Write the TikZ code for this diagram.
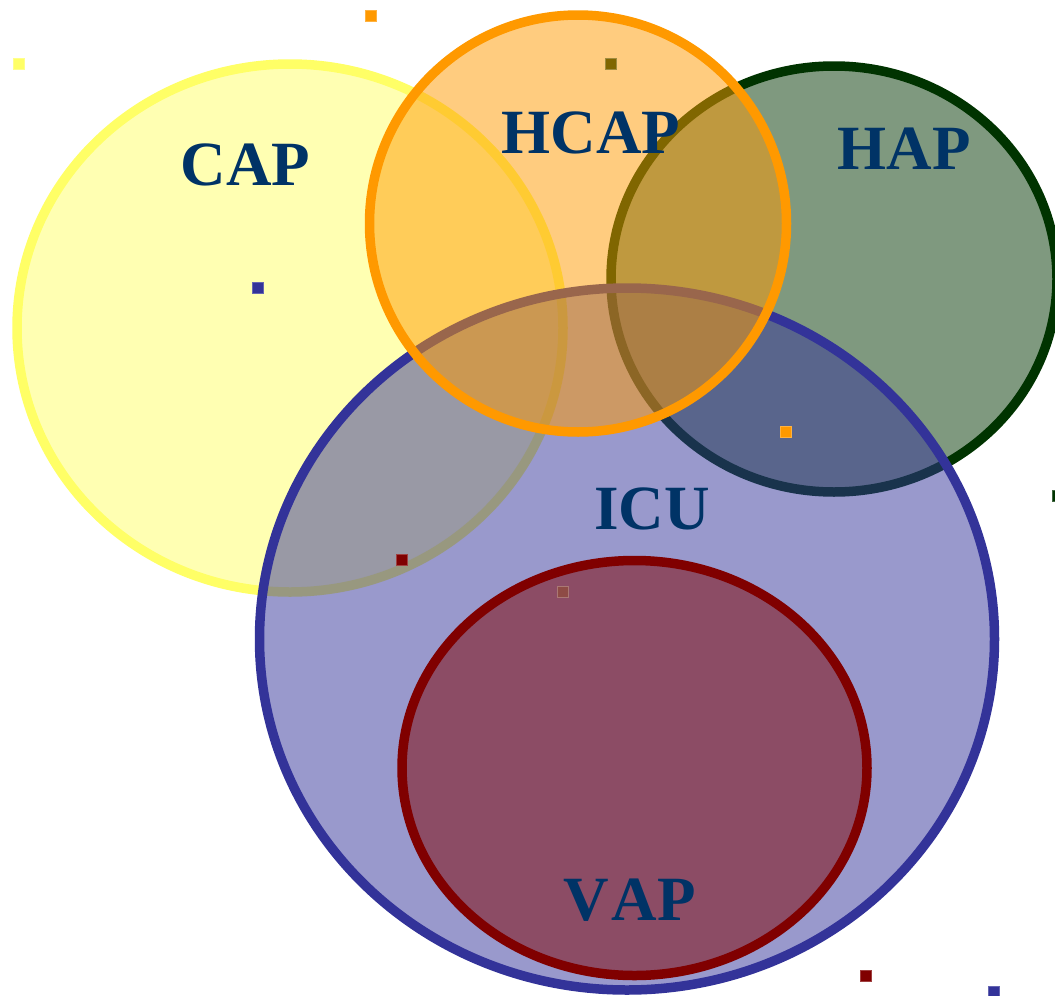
\documentclass[tikz,border=0pt]{standalone}
\usepackage{fontspec}
\setmainfont{Liberation Serif}
\definecolor{capc}{HTML}{FFFF66}
\definecolor{hcapc}{HTML}{FF9900}
\definecolor{hapc}{HTML}{003300}
\definecolor{icuc}{HTML}{333399}
\definecolor{vapc}{HTML}{800000}
\definecolor{olivec}{HTML}{806600}
\definecolor{brownc}{HTML}{8E4B45}
\definecolor{txtc}{HTML}{003366}
\tikzset{
  setshape/.style={line width=9.5pt, fill opacity=0.5},
  lbl/.style={text=txtc, font=\fontsize{63}{63}\selectfont\bfseries, inner sep=0pt},
  handle/.style={fill=#1, draw=#1!75!white, line width=0.6pt},
}
\begin{document}
\begin{tikzpicture}[x=1pt,y=-1pt]
\useasboundingbox (0,0) rectangle (1055,996);
\clip (0,0) rectangle (1055,996);
% sets
\filldraw[setshape, fill=capc, draw=capc] (290,328) ellipse [x radius=273pt, y radius=264pt];
\filldraw[setshape, fill=hapc, draw=hapc] (834,279) ellipse [x radius=223pt, y radius=213pt];
\filldraw[setshape, fill=icuc, draw=icuc] (627,639) ellipse [x radius=367.5pt, y radius=351pt];
\filldraw[setshape, fill=hcapc, draw=hcapc] (578,223.5) ellipse [x radius=208.5pt, y radius=208.5pt];
\filldraw[setshape, fill=vapc, draw=vapc] (634.5,768) ellipse [x radius=232.5pt, y radius=207.5pt];
% handles
\foreach \cx/\cy/\cc in {370.5/16/hcapc, 18.5/64/capc, 610.5/63.5/olivec, 258/288/icuc,
  786/431.5/hcapc, 1058/495.5/hapc, 402/559.5/vapc, 562.5/592/brownc, 866/975.5/vapc, 994/991.5/icuc}
  \filldraw[handle=\cc] (\cx-5.5,\cy-5.5) rectangle (\cx+5.5,\cy+5.5);
% labels
\node[lbl] (cap) at (245.5,165) {CAP};
\node[lbl] (hcap) at (591,132.5) {HCAP};
\node[lbl] (hap) at (904,149) {HAP};
\node[lbl] (icu) at (652,509) {ICU};
\node[lbl] (vap) at (630,900) {V\kern2pt A\kern1pt P};
\end{tikzpicture}
\end{document}
